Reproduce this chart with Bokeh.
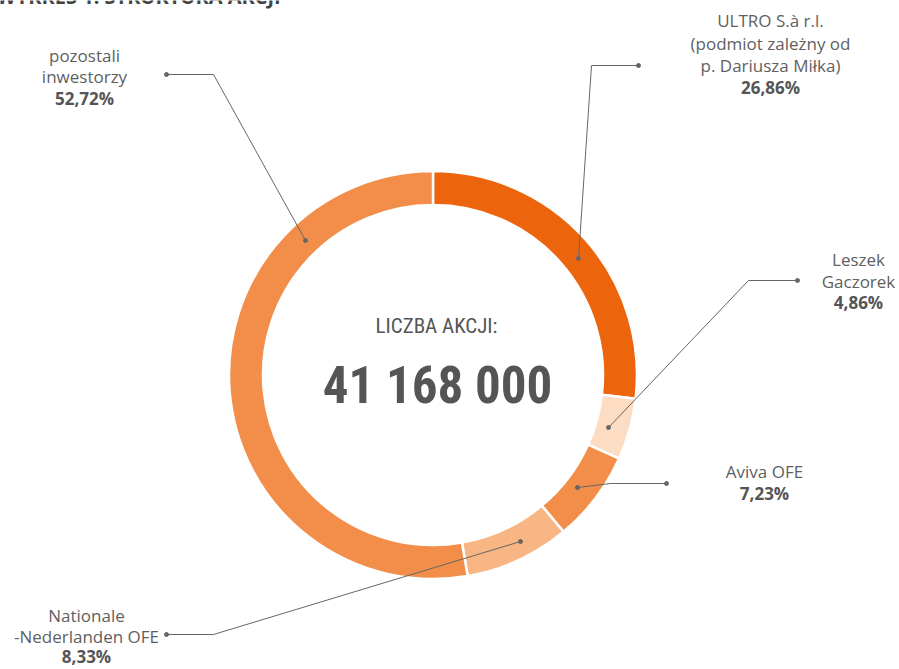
import math
from bokeh.plotting import figure
from bokeh.models import ColumnDataSource, Range1d
from bokeh.core.properties import value
from bokeh.embed import file_html
from bokeh.resources import INLINE

# ---- data ----
holders = ["ULTRO S.à r.l.", "Leszek Gaczorek", "Aviva OFE", "Nationale-Nederlanden OFE", "pozostali inwestorzy"]
shares = [26.86, 4.86, 7.23, 8.33, 52.72]
colors = ["#EC650D", "#FCDCC3", "#F28E4A", "#F8B685", "#F28E4A"]
share_labels = ["26,86%", "4,86%", "7,23%", "8,33%", "52,72%"]
center_title = "LICZBA AKCJI:"
center_value = "41 168 000"

W, H = 899, 669
def Y(px):
    return H - px

p = figure(width=W, height=H, output_backend="svg", toolbar_location=None,
           x_range=Range1d(0, W), y_range=Range1d(0, H), min_border=0)
p.axis.visible = False
p.grid.visible = False
p.outline_line_color = None
p.background_fill_color = "white"

cx, cy = 432.5, Y(374.5)
total = sum(shares)
starts, ends = [], []
acc = 0.0
for s in shares:
    a0 = math.pi / 2 - 2 * math.pi * acc / total
    acc += s
    a1 = math.pi / 2 - 2 * math.pi * acc / total
    starts.append(a0)
    ends.append(a1)

src = ColumnDataSource(dict(start=starts, end=ends, color=colors, name=holders))
p.annular_wedge(x=cx, y=cy, inner_radius=170, outer_radius=204, start_angle="start",
                end_angle="end", direction="clock", fill_color="color",
                line_color="white", line_width=2.5, source=src)

# leader lines (pixel layout)
leaders = [
    [(578, 258), (591, 65), (638, 65)],
    [(608, 427), (748, 280), (797, 280)],
    [(577, 487), (610, 483), (666, 483)],
    [(520, 541), (213, 634), (166, 634)],
    [(305, 240), (213, 74), (166, 74)],
]
for pts in leaders:
    xs = [q[0] for q in pts]
    ys = [Y(q[1]) for q in pts]
    p.line(xs, ys, line_color="#666666", line_width=1)
    p.scatter([xs[0], xs[-1]], [ys[0], ys[-1]], size=4, color="#666666")

font = value("Open Sans")
grey = "#5f5f5f"

def label(x, lines, bold_y, pct, align="center"):
    for (t, yy) in lines:
        p.text(x=[x], y=[Y(yy)], text=[t], text_font=font, text_font_size="17px",
               text_color=grey, text_align=align, text_baseline="middle")
    p.text(x=[x], y=[Y(bold_y)], text=[pct], text_font=font, text_font_size="17px",
           text_font_style="bold", text_color="#555555", text_align=align,
           text_baseline="middle")

label(770, [("ULTRO S.à r.l.", 20), ("(podmiot zależny od", 43), ("p. Dariusza Miłka)", 65)], 87, share_labels[0])
label(858, [("Leszek", 259), ("Gaczorek", 281)], 302, share_labels[1])
label(764, [("Aviva OFE", 471)], 493, share_labels[2])
label(86, [("Nationale", 615), ("-Nederlanden OFE", 636)], 656, share_labels[3])
label(84, [("pozostali", 55), ("inwestorzy", 76)], 98, share_labels[4])

cond = value("Roboto Condensed, Liberation Sans Narrow, Roboto")
p.text(x=[436], y=[Y(325)], text=[center_title], text_font=cond, text_font_size="21px",
       text_color="#555555", text_align="center", text_baseline="middle")
p.text(x=[437], y=[Y(385)], text=[center_value], text_font=cond, text_font_size="51px",
       text_font_style="bold", text_color="#555555", text_align="center",
       text_baseline="middle")

# cut-off heading at the top edge (only its lower edge is visible, as in the reference)
p.text(x=[-4], y=[Y(-4)], text=["WYKRES 1. STRUKTURA AKCJI"], text_font=font,
       text_font_size="20px", text_font_style="bold", text_color="#444444",
       text_align="left", text_baseline="alphabetic")

open("out.html", "w").write(file_html(p, INLINE))
